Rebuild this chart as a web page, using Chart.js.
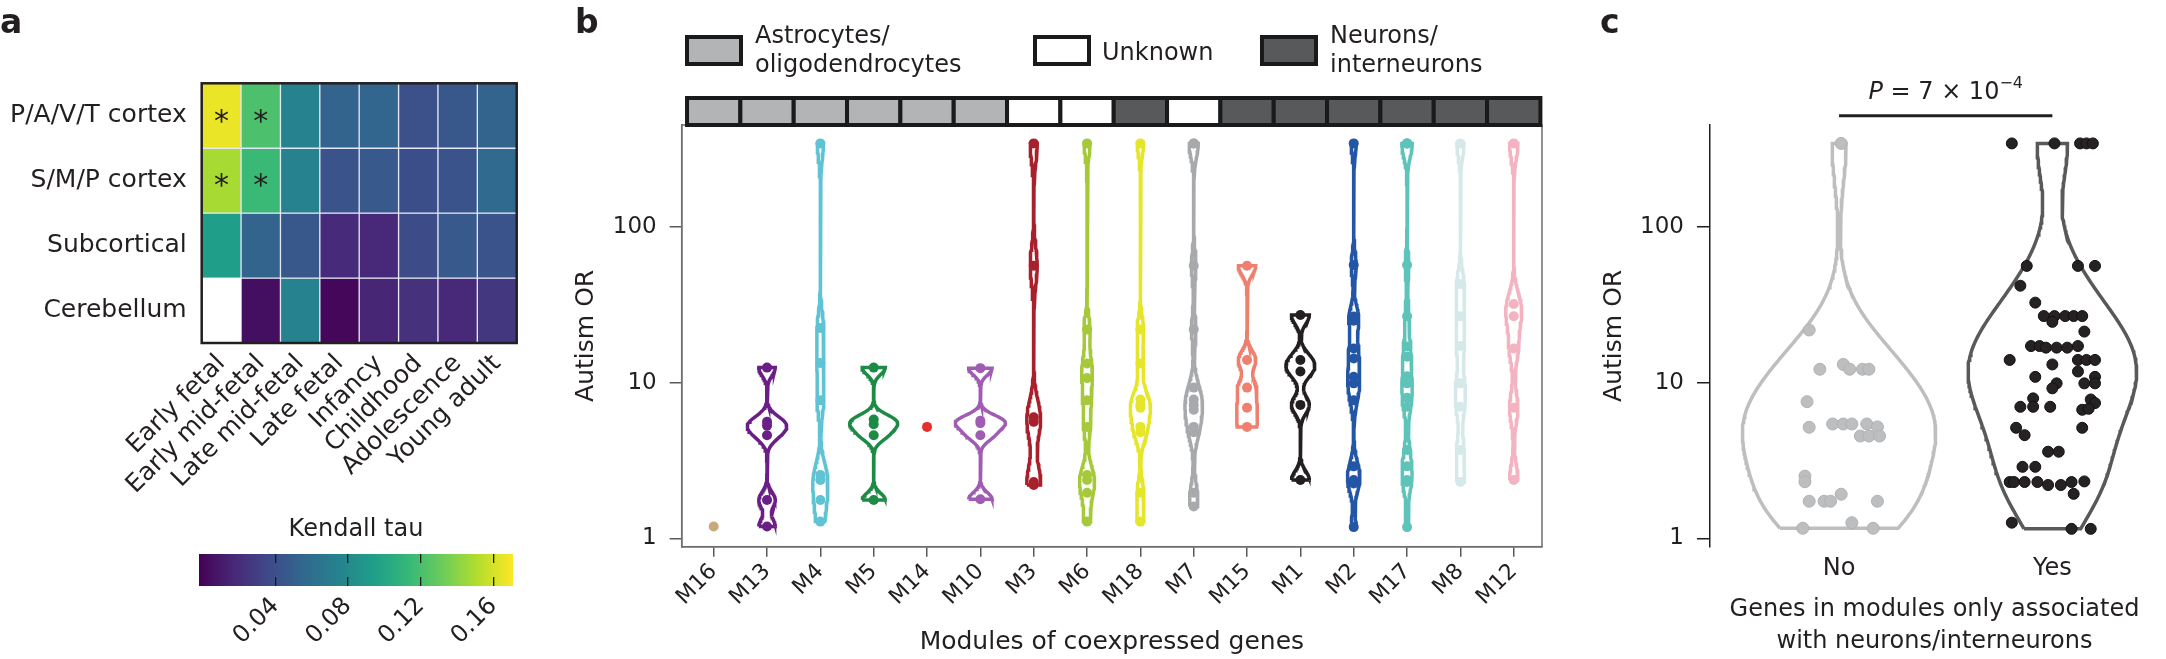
<!DOCTYPE html>
<html>
<head>
<meta charset="utf-8">
<script src="https://cdn.jsdelivr.net/npm/chart.js@4.4.1/dist/chart.umd.min.js"></script>
<style>
  html, body { margin: 0; padding: 0; background: #fff; }
  #wrap { position: relative; width: 2166px; height: 659px; overflow: hidden; }
  #wrap canvas { position: absolute; left: 0; top: 0; }
</style>
</head>
<body>
<div id="wrap">
  <canvas id="heat" width="2166" height="659"></canvas>
  <canvas id="cbar" width="2166" height="659"></canvas>
  <canvas id="modules" width="2166" height="659"></canvas>
  <canvas id="neuro" width="2166" height="659"></canvas>
</div>
<script>
// ---- panel a: Kendall tau per region x stage
const stages = ['Early fetal', 'Early mid-fetal', 'Late mid-fetal', 'Late fetal', 'Infancy', 'Childhood', 'Adolescence', 'Young adult'];
const regions = ['P/A/V/T cortex', 'S/M/P cortex', 'Subcortical', 'Cerebellum'];
const tauPAVT  = [0.166, 0.121, 0.075, 0.053, 0.054, 0.040, 0.045, 0.053];
const tauSMP   = [0.148, 0.115, 0.075, 0.043, 0.046, 0.039, 0.042, 0.057];
const tauSub   = [0.094, 0.053, 0.045, 0.019, 0.018, 0.037, 0.046, 0.042];
const tauCereb = [null, 0.005, 0.075, 0.001, 0.016, 0.022, 0.017, 0.026];
const sigPAVT  = [1, 1, 0, 0, 0, 0, 0, 0];
const sigSMP   = [1, 1, 0, 0, 0, 0, 0, 0];
const sigSub   = [0, 0, 0, 0, 0, 0, 0, 0];
const sigCereb = [0, 0, 0, 0, 0, 0, 0, 0];
const cbMin = -0.002, cbMax = 0.1708;
const cbTicks = [0.04, 0.08, 0.12, 0.16];

// ---- panel b: autism OR per module
const moduleNames = ['M16', 'M13', 'M4', 'M5', 'M14', 'M10', 'M3', 'M6', 'M18', 'M7', 'M15', 'M1', 'M2', 'M17', 'M8', 'M12'];
const moduleType  = ['astro', 'astro', 'astro', 'astro', 'astro', 'astro', 'unknown', 'unknown', 'neuron', 'unknown', 'neuron', 'neuron', 'neuron', 'neuron', 'neuron', 'neuron'];
const orM16 = [1.19];
const orM13 = [12.5, 5.6, 5.3, 4.6, 1.76, 1.19];
const orM4  = [345, 22.5, 13.4, 7.7, 2.55, 2.37, 1.76, 1.28];
const orM5  = [12.5, 5.8, 5.4, 4.6, 1.76];
const orM14 = [5.2];
const orM10 = [12.4, 5.7, 5.5, 4.6, 1.78];
const orM3  = [345, 56.5, 6.0, 5.6, 2.3, 2.2];
const orM6  = [345, 22, 13.3, 10.7, 7.7, 5.2, 2.55, 2.37, 1.96, 1.28];
const orM18 = [345, 22, 13.3, 7.8, 7.2, 6.9, 5.2, 4.8, 1.96, 1.28];
const orM7  = [345, 345, 56.5, 22, 9.3, 7.8, 7.2, 6.7, 5.2, 4.8, 1.96, 1.6];
const orM15 = [56.5, 14, 9.3, 6.9, 5.2];
const orM1  = [27.2, 14, 11.8, 7.2, 2.37];
const orM2  = [345, 57, 26.6, 25, 16.6, 14.3, 10.9, 9.9, 7.7, 2.9, 2.37, 2.25, 1.18];
const orM17 = [345, 345, 345, 57, 26.7, 17.1, 14.7, 11, 9.9, 8, 7, 3.7, 2.9, 2.37, 2.3, 1.18];
const orM8  = [345, 43, 26.7, 17.2, 9.9, 7.0, 3.7, 2.3];
const orM12 = [345, 32, 26.7, 16.6, 6.9, 2.37];
const orTicks = [1, 10, 100];

// ---- panel c: neuron-only modules vs others
const groupNames = ['No', 'Yes'];
const noOR = [345, 21.8, 12.2, 13.1, 12.2, 12.2, 12.2, 7.55, 5.17, 5.43, 5.43, 5.43, 5.43, 5.2,
  4.54, 4.54, 4.54, 2.51, 2.31, 1.73, 1.73, 1.73, 1.92, 1.73, 1.16, 1.26, 1.16];
const noJitter = [0.01, -0.14, -0.09, 0.02, 0.05, 0.11, 0.14, -0.15, -0.14, -0.03, 0.02, 0.06, 0.13, 0.18,
  0.10, 0.14, 0.19, -0.16, -0.16, -0.14, -0.07, -0.04, 0.01, 0.18, -0.17, 0.06, 0.16];
const yesOR = [345, 345, 345, 345, 345, 56.3, 56.3, 56.3, 42, 32.7,
  26.8, 26.8, 26.8, 26.8, 26.8, 24.6, 21.3, 17.2, 17.2, 16.8, 16.8, 16.8, 17.2,
  14, 14, 14, 14, 13.1, 11.8, 10.9, 10.9, 9.9, 9.2, 9.9, 9.9, 7.93,
  7.0, 7.0, 7.0, 7.8, 7.4, 6.7, 6.8, 5.13, 4.6, 5.13, 3.6, 3.6, 2.88, 2.88,
  2.3, 2.3, 2.3, 2.3, 2.2, 2.2, 2.3, 2.32, 1.93, 1.26, 1.15, 1.15];
const yesJitter = [-0.19, 0.01, 0.13, 0.16, 0.19, -0.12, 0.12, 0.20, -0.15, -0.08,
  -0.04, 0.01, 0.06, 0.10, 0.14, 0.00, 0.15, -0.10, -0.06, -0.03, 0.02, 0.07, 0.12,
  -0.20, 0.12, 0.16, 0.20, 0.00, 0.12, -0.08, 0.20, 0.02, 0.00, 0.15, 0.20, -0.09,
  -0.15, -0.09, -0.01, 0.18, 0.20, 0.14, 0.17, -0.17, -0.13, 0.14, -0.02, 0.03, -0.14, -0.08,
  -0.20, -0.18, -0.13, -0.07, -0.02, 0.04, 0.09, 0.15, 0.10, -0.19, 0.09, 0.18];

// ---- shared style
const INK = '#231f20';
const FONT = '"DejaVu Sans", sans-serif';
Chart.defaults.font.family = FONT;
Chart.defaults.color = INK;
Chart.defaults.animation = false;
Chart.defaults.plugins.legend.display = false;
Chart.defaults.plugins.tooltip.enabled = false;
Chart.defaults.events = [];

const VIRIDIS = ['#440154', '#482878', '#3e4a89', '#31688e', '#26828e', '#1f9e89', '#35b779', '#6dcd59', '#b4de2c', '#fde725'];
function hexRgb(h) { return [1, 3, 5].map(k => parseInt(h.substr(k, 2), 16)); }
function viridis(t) {
  t = Math.max(0, Math.min(1, t));
  const p = t * (VIRIDIS.length - 1);
  const i = Math.min(Math.floor(p), VIRIDIS.length - 2);
  const f = p - i;
  const a = hexRgb(VIRIDIS[i]), b = hexRgb(VIRIDIS[i + 1]);
  return 'rgb(' + a.map((c, k) => Math.round(c + (b[k] - c) * f)).join(',') + ')';
}
const tauColor = v => viridis((v - cbMin) / (cbMax - cbMin));

function panelLetter(ctx, txt, x) {
  ctx.save();
  ctx.font = 'bold 33px ' + FONT;
  ctx.fillStyle = INK;
  ctx.textBaseline = 'alphabetic';
  ctx.fillText(txt, x, 33);
  ctx.restore();
}

// gaussian kde on log10 values, cut at the data range (violin outline)
function logDensity(vals, bwFactor) {
  const logs = vals.map(v => Math.log10(v));
  const n = logs.length;
  const mean = logs.reduce((a, b) => a + b, 0) / n;
  const sd = Math.sqrt(logs.reduce((a, b) => a + (b - mean) ** 2, 0) / (n - 1));
  const bw = sd * Math.pow(n, -0.2) * bwFactor;
  const lo = Math.min(...logs), hi = Math.max(...logs);
  const out = [];
  for (let k = 0; k <= 160; k++) {
    const t = lo + (hi - lo) * k / 160;
    let d = 0;
    logs.forEach(l => { d += Math.exp(-0.5 * ((t - l) / bw) ** 2); });
    out.push({ t: t, d: d / (n * bw * Math.sqrt(2 * Math.PI)) });
  }
  return out;
}
function outline(dens, center, scale) {
  const left = dens.map(p => ({ x: center - p.d * scale, y: Math.pow(10, p.t) }));
  const right = dens.slice().reverse().map(p => ({ x: center + p.d * scale, y: Math.pow(10, p.t) }));
  return left.concat(right, [left[0]]);
}

// =============== panel a: heatmap ===============
const tauRows = [tauPAVT, tauSMP, tauSub, tauCereb];
const sigRows = [sigPAVT, sigSMP, sigSub, sigCereb];

const heatDecor = {
  id: 'heatDecor',
  afterDatasetsDraw(chart) {
    const { ctx, chartArea: a, scales } = chart;
    ctx.save();
    ctx.fillStyle = INK;
    ctx.font = '30px ' + FONT;
    ctx.textAlign = 'center';
    ctx.textBaseline = 'middle';
    sigRows.forEach((row, i) => row.forEach((s, j) => {
      if (s) ctx.fillText('*', scales.x.getPixelForValue(j), scales.y.getPixelForValue(i + 0.5) + 7);
    }));
    ctx.strokeStyle = INK;
    ctx.lineWidth = 2.5;
    ctx.strokeRect(a.left, a.top, a.right - a.left, a.bottom - a.top);
    ctx.restore();
    panelLetter(ctx, 'a', 0);
  }
};

new Chart(document.getElementById('heat'), {
  type: 'bar',
  data: {
    labels: stages,
    datasets: tauRows.map((row, i) => ({
      data: row.map(v => v == null ? null : [i, i + 1]),
      backgroundColor: row.map(v => v == null ? 'rgba(0,0,0,0)' : tauColor(v)),
      borderColor: 'rgba(228,230,245,0.95)',
      borderWidth: 1,
      borderSkipped: false,
      categoryPercentage: 1,
      barPercentage: 1,
      grouped: false
    }))
  },
  options: {
    responsive: false,
    devicePixelRatio: 1,
    layout: { padding: { left: 11.7, top: 83.3, right: 2166 - 516.7, bottom: 0 } },
    scales: {
      x: {
        grid: { display: false, drawTicks: false },
        border: { display: false },
        ticks: { minRotation: 45, maxRotation: 45, autoSkip: false, padding: 6, font: { size: 25 } },
        afterFit: s => { s.height = 316; }
      },
      y: {
        min: 0, max: 4, reverse: true,
        grid: { display: false, drawTicks: false },
        border: { display: false },
        afterBuildTicks: ax => { ax.ticks = [0.5, 1.5, 2.5, 3.5].map(v => ({ value: v })); },
        ticks: { callback: (v, i) => regions[i], padding: 15, font: { size: 25 } },
        afterFit: s => { s.width = 190; }
      }
    }
  },
  plugins: [heatDecor]
});

// colour bar
const cbarDecor = {
  id: 'cbarDecor',
  beforeDraw(chart) {
    const { ctx, chartArea: a, scales } = chart;
    const x0 = scales.x.getPixelForValue(cbMin), x1 = scales.x.getPixelForValue(cbMax);
    const g = ctx.createLinearGradient(x0, 0, x1, 0);
    VIRIDIS.forEach((c, k) => g.addColorStop(k / (VIRIDIS.length - 1), c));
    ctx.save();
    ctx.fillStyle = g;
    ctx.fillRect(x0, a.top, x1 - x0, a.bottom - a.top);
    ctx.fillStyle = INK;
    ctx.font = '24px ' + FONT;
    ctx.textAlign = 'center';
    ctx.textBaseline = 'middle';
    ctx.fillText('Kendall tau', (a.left + a.right) / 2, a.top - 24);
    ctx.restore();
  }
};

new Chart(document.getElementById('cbar'), {
  type: 'scatter',
  data: { datasets: [{ data: [] }] },
  options: {
    responsive: false,
    devicePixelRatio: 1,
    layout: { padding: { left: 199, top: 554, right: 2166 - 513, bottom: 0 } },
    scales: {
      x: {
        type: 'linear', min: cbMin, max: cbMax,
        grid: { drawTicks: false, color: '#1a1a1a', lineWidth: 1.3 },
        border: { display: false, dash: [9, 14] },
        afterBuildTicks: ax => { ax.ticks = cbTicks.map(v => ({ value: v })); },
        ticks: { callback: v => v.toFixed(2), minRotation: 45, maxRotation: 45, padding: 6, font: { size: 24 } },
        afterFit: s => { s.height = 73; }
      },
      y: { display: false, min: 0, max: 1 }
    }
  },
  plugins: [cbarDecor]
});

// =============== panel b: violins per module ===============
const moduleOR = [orM16, orM13, orM4, orM5, orM14, orM10, orM3, orM6, orM18, orM7, orM15, orM1, orM2, orM17, orM8, orM12];
const moduleColors = ['#c9a87c', '#6a1f86', '#5fc3d3', '#1d8a45', '#e62e2d', '#a05cb3', '#a8202c', '#a6c93a',
  '#e5e52a', '#a7a9ac', '#ef7f6f', '#231f20', '#2456a6', '#5ec4b9', '#d5e9eb', '#f3b3c1'];
const typeFill = { astro: '#b3b4b6', unknown: '#ffffff', neuron: '#58595b' };

const moduleDens = moduleOR.map(v => v.length > 1 ? logDensity(v, 0.2) : null);
const moduleMaxD = Math.max(...moduleDens.filter(Boolean).flatMap(d => d.map(p => p.d)));
const moduleScale = 0.47 / moduleMaxD;

const moduleSets = [];
moduleOR.forEach((vals, i) => {
  moduleSets.push({
    data: vals.map(v => ({ x: i, y: v })),
    pointRadius: 5, pointBackgroundColor: moduleColors[i], pointBorderWidth: 0, order: 0
  });
  if (moduleDens[i]) {
    moduleSets.push({
      data: outline(moduleDens[i], i, moduleScale),
      showLine: true, pointRadius: 0, borderColor: moduleColors[i], borderWidth: 3.5,
      tension: 0, fill: false, order: 1
    });
  }
});

const moduleDecor = {
  id: 'moduleDecor',
  afterDraw(chart) {
    const { ctx, chartArea: a, scales } = chart;
    ctx.save();
    // plot frame
    ctx.strokeStyle = '#6d6e71';
    ctx.lineWidth = 1.5;
    ctx.strokeRect(a.left, a.top, a.right - a.left, a.bottom - a.top);
    // cell-type strip
    ctx.lineWidth = 4;
    ctx.strokeStyle = '#1a1a1a';
    moduleType.forEach((t, i) => {
      const x0 = scales.x.getPixelForValue(i - 0.5), x1 = scales.x.getPixelForValue(i + 0.5);
      ctx.fillStyle = typeFill[t];
      ctx.fillRect(x0, 98, x1 - x0, 27);
      ctx.strokeRect(x0, 98, x1 - x0, 27);
    });
    // legend
    const items = [
      { x: 687, fill: typeFill.astro, lines: ['Astrocytes/', 'oligodendrocytes'] },
      { x: 1035, fill: typeFill.unknown, lines: ['Unknown'] },
      { x: 1262, fill: typeFill.neuron, lines: ['Neurons/', 'interneurons'] }
    ];
    ctx.font = '24px ' + FONT;
    ctx.textBaseline = 'alphabetic';
    items.forEach(it => {
      ctx.fillStyle = it.fill;
      ctx.fillRect(it.x, 37, 54, 27);
      ctx.strokeRect(it.x, 37, 54, 27);
      ctx.fillStyle = INK;
      if (it.lines.length === 1) ctx.fillText(it.lines[0], it.x + 67, 60);
      else it.lines.forEach((l, k) => ctx.fillText(l, it.x + 68, 43 + 29 * k));
    });
    ctx.restore();
    panelLetter(ctx, 'b', 575);
  }
};

new Chart(document.getElementById('modules'), {
  type: 'scatter',
  data: { datasets: moduleSets },
  options: {
    responsive: false,
    devicePixelRatio: 1,
    layout: { padding: { left: 561.7, top: 125, right: 2166 - 1542, bottom: 0 } },
    scales: {
      x: {
        type: 'linear', min: -0.6, max: 15.53,
        grid: { drawOnChartArea: false, tickLength: 10, color: '#58595b', lineWidth: 1.5 },
        border: { color: '#58595b', width: 1.5 },
        afterBuildTicks: ax => { ax.ticks = moduleNames.map((_, i) => ({ value: i })); },
        ticks: { callback: v => moduleNames[v], minRotation: 45, maxRotation: 45, autoSkip: false, padding: 2, font: { size: 22 } },
        title: { display: true, text: 'Modules of coexpressed genes', font: { size: 25 }, padding: { top: 0, bottom: 2 } },
        afterFit: s => { s.height = 112.3; }
      },
      y: {
        type: 'logarithmic', min: 0.883, max: 453,
        grid: { drawOnChartArea: false, tickLength: 12, color: '#58595b', lineWidth: 1.5 },
        border: { color: '#58595b', width: 1.5 },
        afterBuildTicks: ax => { ax.ticks = orTicks.map(v => ({ value: v })); },
        ticks: { callback: v => String(v), padding: 13, font: { size: 23 } },
        title: { display: true, text: 'Autism OR', font: { size: 25 }, padding: { top: 10, bottom: 0 } },
        afterFit: s => { s.width = 120; }
      }
    }
  },
  plugins: [moduleDecor]
});

// =============== panel c: neuron-only vs other ===============
const groupOR = [noOR, yesOR];
const groupLine = ['#bcbec0', '#58595b'];
const groupDens = groupOR.map(v => logDensity(v, 1));
const groupMaxD = Math.max(...groupDens.flatMap(d => d.map(p => p.d)));
const groupScale = 0.453 / groupMaxD;

const neuroSets = [
  { data: noOR.map((v, k) => ({ x: 0 + noJitter[k], y: v })), pointRadius: 6, pointBackgroundColor: '#bcbec0', pointBorderColor: '#b0b2b4', pointBorderWidth: 1, order: 0 },
  { data: yesOR.map((v, k) => ({ x: 1 + yesJitter[k], y: v })), pointRadius: 5.5, pointBackgroundColor: '#262223', pointBorderColor: '#111', pointBorderWidth: 1, order: 0 }
];
groupDens.forEach((d, g) => neuroSets.push({
  data: outline(d, g, groupScale), showLine: true, pointRadius: 0,
  borderColor: groupLine[g], borderWidth: 3.5, tension: 0, fill: false, order: 1
}));

const neuroDecor = {
  id: 'neuroDecor',
  afterDraw(chart) {
    const { ctx, scales } = chart;
    const x0 = scales.x.getPixelForValue(0), x1 = scales.x.getPixelForValue(1);
    ctx.save();
    ctx.strokeStyle = INK;
    ctx.lineWidth = 3;
    ctx.beginPath();
    ctx.moveTo(x0, 115.7);
    ctx.lineTo(x1, 115.7);
    ctx.stroke();
    // P = 7 x 10^-4
    const parts = [
      { t: 'P', f: 'italic 24px ' + FONT, dy: 0 },
      { t: ' = 7 \u00d7 10', f: '24px ' + FONT, dy: 0 },
      { t: '\u22124', f: '16px ' + FONT, dy: -11 }
    ];
    let w = 0;
    parts.forEach(p => { ctx.font = p.f; p.w = ctx.measureText(p.t).width; w += p.w; });
    let x = (x0 + x1) / 2 - w / 2;
    ctx.fillStyle = INK;
    ctx.textBaseline = 'alphabetic';
    parts.forEach(p => { ctx.font = p.f; ctx.fillText(p.t, x, 99 + p.dy); x += p.w; });
    ctx.restore();
    panelLetter(ctx, 'c', 1600);
  }
};

new Chart(document.getElementById('neuro'), {
  type: 'scatter',
  data: { datasets: neuroSets },
  options: {
    responsive: false,
    devicePixelRatio: 1,
    layout: { padding: { left: 1595, top: 125, right: 3.4, bottom: 0 } },
    scales: {
      x: {
        type: 'linear', min: -0.605, max: 1.5,
        grid: { display: false, drawTicks: false },
        border: { display: false },
        afterBuildTicks: ax => { ax.ticks = groupNames.map((_, i) => ({ value: i })); },
        ticks: { callback: v => groupNames[v], padding: 8, font: { size: 24 } },
        title: { display: true, text: ['Genes in modules only associated', 'with neurons/interneurons'], font: { size: 24, lineHeight: 1.33 }, padding: { top: 0, bottom: 1 } },
        afterFit: s => { s.height = 112.3; }
      },
      y: {
        type: 'logarithmic', min: 0.883, max: 453,
        grid: { drawOnChartArea: false, tickLength: 13, color: INK, lineWidth: 1.5 },
        border: { color: INK, width: 1.5 },
        afterBuildTicks: ax => { ax.ticks = orTicks.map(v => ({ value: v })); },
        ticks: { callback: v => String(v), padding: 13, font: { size: 23 } },
        title: { display: true, text: 'Autism OR', font: { size: 25 }, padding: { top: 4, bottom: 0 } },
        afterFit: s => { s.width = 115; }
      }
    }
  },
  plugins: [neuroDecor]
});
</script>
</body>
</html>
